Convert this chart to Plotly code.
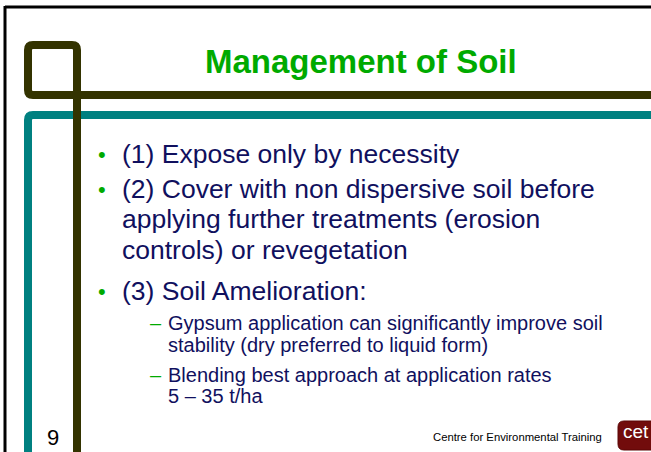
import plotly.graph_objects as go

# ---- content ----
title_text = "Management of Soil"
main_lines = [
    "(1) Expose only by necessity",
    "(2) Cover with non dispersive soil before",
    "applying further treatments (erosion",
    "controls) or revegetation",
    "(3) Soil Amelioration:",
]
main_has_bullet = [True, True, False, False, True]
sub_lines = [
    "Gypsum application can significantly improve soil",
    "stability (dry preferred to liquid form)",
    "Blending best approach at application rates",
    "5 \u2013 35 t/ha",
]
sub_has_dash = [True, False, True, False]
footer_text = "Centre for Environmental Training"
logo_text = "cet"
page_number = "9"

# ---- layout (pixel positions) ----
W, H = 651, 452
FONT = "Arial, Liberation Sans, Helvetica, sans-serif"
NAVY = "#10105e"
GREEN = "#00aa00"
OLIVE = "#333300"
TEAL = "#008080"

main_baselines = [163, 198, 228, 259, 300]
sub_baselines = [330, 352, 382, 403]
MAIN_SIZE = 26.5
SUB_SIZE = 20

fig = go.Figure()

shapes = []
# black frame (top and left)
shapes.append(dict(type="line", xref="x", yref="y", x0=5, y0=7, x1=W + 5, y1=7,
                   line=dict(color="#000000", width=3)))
shapes.append(dict(type="line", xref="x", yref="y", x0=5, y0=6, x1=5, y1=H + 5,
                   line=dict(color="#000000", width=3)))
# teal frame
shapes.append(dict(type="path", xref="x", yref="y",
                   path="M 28,470 L 28,120 Q 28,115 33,115 L 670,115",
                   line=dict(color=TEAL, width=8)))
# olive square + cross lines
shapes.append(dict(type="path", xref="x", yref="y",
                   path="M 77,470 L 77,50 Q 77,45 72,45 L 33,45 Q 28,45 28,50 "
                        "L 28,90 Q 28,95 33,95 L 670,95",
                   line=dict(color=OLIVE, width=8)))
# cet logo box
shapes.append(dict(type="path", xref="x", yref="y",
                   path="M 624,421 L 660,421 L 660,450 L 624,450 Q 618,450 618,444 "
                        "L 618,427 Q 618,421 624,421 Z",
                   fillcolor="#720c0c", line=dict(color="#5a0505", width=1)))

annotations = []
# title
annotations.append(dict(x=361, y=73 - 0.35 * 33, xref="x", yref="y", text=f"<b>{title_text}</b>",
                        showarrow=False, xanchor="center", yanchor="middle",
                        font=dict(family=FONT, size=33, color=GREEN)))
# main bullet lines
for txt, bl, has_b in zip(main_lines, main_baselines, main_has_bullet):
    yc = bl - 0.35 * MAIN_SIZE
    annotations.append(dict(x=120, y=yc, xref="x", yref="y", text=txt, showarrow=False,
                            xanchor="left", yanchor="middle",
                            font=dict(family=FONT, size=MAIN_SIZE, color=NAVY)))
    if has_b:
        annotations.append(dict(x=101.5, y=yc + 0.5, xref="x", yref="y", text="\u2022",
                                showarrow=False, xanchor="center", yanchor="middle",
                                font=dict(family=FONT, size=22, color=GREEN)))
# sub lines
for txt, bl, has_d in zip(sub_lines, sub_baselines, sub_has_dash):
    yc = bl - 0.35 * SUB_SIZE
    annotations.append(dict(x=166, y=yc, xref="x", yref="y", text=txt, showarrow=False,
                            xanchor="left", yanchor="middle",
                            font=dict(family=FONT, size=SUB_SIZE, color=NAVY)))
    if has_d:
        annotations.append(dict(x=148, y=yc, xref="x", yref="y", text="\u2013",
                                showarrow=False, xanchor="left", yanchor="middle",
                                font=dict(family=FONT, size=SUB_SIZE, color=GREEN)))
# footer
annotations.append(dict(x=517, y=441 - 0.35 * 11.3, xref="x", yref="y", text=footer_text,
                        showarrow=False, xanchor="center", yanchor="middle",
                        font=dict(family=FONT, size=11.3, color="#000000")))
annotations.append(dict(x=52.5, y=445 - 0.35 * 22, xref="x", yref="y", text=page_number,
                        showarrow=False, xanchor="center", yanchor="middle",
                        font=dict(family=FONT, size=22, color="#000000")))
annotations.append(dict(x=635.5, y=438 - 0.35 * 19, xref="x", yref="y", text=logo_text,
                        showarrow=False, xanchor="center", yanchor="middle",
                        font=dict(family=FONT, size=19, color="#ffffff")))

fig.update_layout(
    width=W, height=H,
    margin=dict(l=0, r=0, t=0, b=0),
    paper_bgcolor="#ffffff", plot_bgcolor="#ffffff",
    xaxis=dict(range=[0, W], visible=False, fixedrange=True),
    yaxis=dict(range=[H, 0], visible=False, fixedrange=True),
    shapes=shapes, annotations=annotations, showlegend=False,
)

fig.write_html("out.html", config={"displayModeBar": False},
               post_script="document.body.style.margin='0px';document.body.style.overflow='hidden';")
